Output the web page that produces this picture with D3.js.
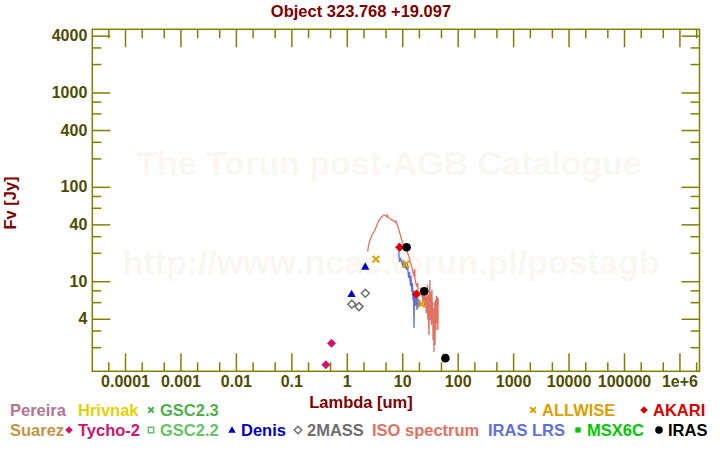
<!DOCTYPE html>
<html><head><meta charset="utf-8">
<script src="https://cdn.jsdelivr.net/npm/d3@7"></script>
<style>
body{margin:0;background:#fff}
svg{display:block}
text{font-family:"Liberation Sans",Arial,Helvetica,sans-serif;font-weight:bold}
</style>
</head><body>
<svg id="chart" width="720" height="450"></svg>
<script>
// ---------- data ----------
const chartTitle = "Object 323.768 +19.097";
const xLabel = "Lambda [um]";
const yLabel = "Fv [Jy]";
const watermark1 = "The Torun post-AGB Catalogue";
const watermark2 = "http://www.ncac.torun.pl/postagb";

const xMajorTicks = [1e-4, 1e-3, 0.01, 0.1, 1, 10, 100, 1000, 1e4, 1e5, 1e6];
const xTickLabels = ["0.0001", "0.001", "0.01", "0.1", "1", "10", "100", "1000", "10000", "100000", "1e+6"];
const xMinorTicks = [5e-5, 2e-4, 5e-4, 2e-3, 5e-3, 0.02, 0.05, 0.2, 0.5, 2, 5, 20, 50, 200, 500, 2000, 5000, 2e4, 5e4, 2e5, 5e5, 2e6];
const yMajorTicks = [4, 10, 40, 100, 400, 1000, 4000];
const yTickLabels = ["4", "10", "40", "100", "400", "1000", "4000"];
const yMinorTicks = [2, 3, 6, 8, 20, 30, 60, 80, 200, 300, 600, 800, 2000, 3000];

const tychoLambda = [0.42, 0.53];
const tychoFlux = [1.30, 2.20];
const denisLambda = [1.22, 2.15];
const denisFlux = [7.33, 14.3];
const twomassLambda = [1.235, 1.662, 2.159];
const twomassFlux = [5.71, 5.38, 7.46];
const allwiseLambda = [3.35, 11.6, 22.1];
const allwiseFlux = [17.1, 15.1, 5.71];
const akariLambda = [9, 18];
const akariFlux = [22.9, 7.28];
const irasLambda = [12, 25, 60];
const irasFlux = [22.9, 7.84, 1.53];

const isoLambda = [2.38, 2.46, 2.62, 2.85, 3.23, 3.70, 4.26, 4.75, 5.09, 5.30, 5.35, 5.46, 5.77, 6.45, 7.10, 7.60, 7.65, 7.94, 8.74, 9.77, 10.8, 12.0, 13.2, 14.8, 16.3, 16.8, 17.0, 18.2, 19.0, 19.3, 20.9, 22.0, 22.3, 23.0, 23.4, 24.0, 24.6, 25.0, 25.5, 25.8, 26.4, 27.0, 27.6,
  28.0, 28.5, 28.8, 29.1, 29.4, 29.7, 30.1, 30.4, 30.7, 31.0, 31.3, 31.6, 32.0, 32.3, 32.6, 33.0, 33.3, 33.7, 34.0, 34.4, 34.7, 35.1, 35.5, 35.9, 36.2, 36.6, 37.0, 37.4, 37.8, 38.2, 38.6, 39.0, 39.4, 39.8, 40.2, 40.6, 41.0, 41.5, 42.0, 42.4, 42.8, 43.2, 43.6, 44.1, 44.4, 44.7];
const isoFlux = [20.6, 23.7, 27.4, 30.9, 34.9, 42.8, 48.3, 50.4, 49.2, 48.0, 51.0, 48.3, 46.9, 44.6, 43.5, 42.0, 44.0, 41.1, 34.9, 27.4, 23.7, 21.5, 18.2, 14.3, 11.2, 13.5, 10.5, 8.77, 9.6, 7.6, 7.46, 8.6, 6.9, 7.9, 6.2, 6.34, 8.4, 5.4, 7.8, 5.6, 6.9, 4.6, 4.97,
  7.5, 9.14, 4.4, 3.89, 7.2, 6.34, 3.2, 2.70, 6.0, 5.61, 8.4, 10.3, 4.6, 3.89, 7.6, 6.65, 4.0, 3.44, 7.0, 8.09, 4.4, 4.97, 6.0, 2.39, 5.2, 4.29, 2.6, 1.78, 4.8, 3.44, 6.0, 2.11, 4.4, 6.34, 3.4, 3.05, 6.2, 6.99, 3.6, 3.89, 6.8, 6.34, 4.0, 3.05, 6.6, 5.61];

const lrsLambda = [8.56, 8.74, 8.92, 9.30, 9.69, 10.1, 10.5, 11.0, 11.4, 11.9, 12.4, 13.0, 13.5, 14.1, 14.4, 14.9, 15.3, 15.6, 16.0, 16.3, 16.6, 17.2, 17.7, 18.5, 19.2, 20.1, 20.9];
const lrsFlux = [25.4, 19.0, 16.0, 17.7, 16.0, 14.9, 16.8, 13.8, 16.0, 13.2, 15.3, 10.8, 12.5, 8.92, 11.4, 7.70, 9.59, 6.34, 8.09, 3.20, 6.99, 5.47, 7.52, 4.97, 6.65, 5.47, 6.34];

const legendRow1 = [
  {label: "Pereira", color: "#b3758f", marker: null},
  {label: "Hrivnak", color: "#e6d000", marker: null},
  {label: "GSC2.3", color: "#4daf4d", marker: "cross"},
  {label: "ALLWISE", color: "#dda000", marker: "cross"},
  {label: "AKARI", color: "#dd0000", marker: "diamond"}
];
const legendRow2 = [
  {label: "Suarez", color: "#c49444", marker: null},
  {label: "Tycho-2", color: "#d0146e", marker: "diamond"},
  {label: "GSC2.2", color: "#66c266", marker: "square-open"},
  {label: "Denis", color: "#0000c8", marker: "triangle"},
  {label: "2MASS", color: "#6e6e6e", marker: "diamond-open"},
  {label: "ISO spectrum", color: "#e07262", marker: null},
  {label: "IRAS LRS", color: "#6070d8", marker: null},
  {label: "MSX6C", color: "#00c800", marker: "square"},
  {label: "IRAS", color: "#000000", marker: "circle"}
];
// legend x positions of text starts (pixels, layout)
const legendRow1X = [10, 78, 160, 542, 653];
const legendRow2X = [10, 78, 160, 241, 307, 372, 488, 587, 668];

// ---------- layout ----------
const plot = {left: 92.3, right: 699.5, top: 29.3, bottom: 371.3};
const axisColor = "#808000";
const tickTextColor = "#4d4d00";
const titleColor = "#800000";

const svg = d3.select("#chart");

const x = d3.scaleLog().domain([2.57e-5, 2.3e6]).range([plot.left, plot.right]);
const y = d3.scaleLog().domain([1.11, 4670]).range([plot.bottom, plot.top]);

// watermark
svg.append("text").attr("x", 389).attr("y", 175).attr("text-anchor", "middle")
  .attr("font-size", 34).attr("fill", "#faf7f3").text(watermark1);
svg.append("text").attr("x", 391).attr("y", 274).attr("text-anchor", "middle")
  .attr("font-size", 34).attr("fill", "#faf7f3").text(watermark2);

// title
svg.append("text").attr("x", 361).attr("y", 17).attr("text-anchor", "middle")
  .attr("font-size", 16.5).attr("fill", titleColor).text(chartTitle);

// axes
function styleAxis(g) {
  g.selectAll("path.domain").remove();
  g.selectAll("line").attr("stroke", axisColor).attr("stroke-width", 1.5);
  g.selectAll("text").attr("fill", tickTextColor).attr("font-size", 16)
    .attr("font-family", '"Liberation Sans",Arial,sans-serif').attr("font-weight", "bold");
}
const fmtX = d => xTickLabels[xMajorTicks.indexOf(d)];
const fmtY = d => yTickLabels[yMajorTicks.indexOf(d)];

svg.append("g").attr("transform", `translate(0,${plot.bottom})`)
  .call(d3.axisBottom(x).tickValues(xMajorTicks).tickFormat(fmtX).tickSize(-18).tickPadding(4)).call(styleAxis);
svg.append("g").attr("transform", `translate(0,${plot.bottom})`)
  .call(d3.axisBottom(x).tickValues(xMinorTicks).tickFormat("").tickSize(-9)).call(styleAxis);
svg.append("g").attr("transform", `translate(0,${plot.top})`)
  .call(d3.axisTop(x).tickValues(xMajorTicks).tickFormat("").tickSize(-18)).call(styleAxis);
svg.append("g").attr("transform", `translate(0,${plot.top})`)
  .call(d3.axisTop(x).tickValues(xMinorTicks).tickFormat("").tickSize(-9)).call(styleAxis);
svg.append("g").attr("transform", `translate(${plot.left},0)`)
  .call(d3.axisLeft(y).tickValues(yMajorTicks).tickFormat(fmtY).tickSize(-18).tickPadding(5)).call(styleAxis);
svg.append("g").attr("transform", `translate(${plot.left},0)`)
  .call(d3.axisLeft(y).tickValues(yMinorTicks).tickFormat("").tickSize(-9)).call(styleAxis);
svg.append("g").attr("transform", `translate(${plot.right},0)`)
  .call(d3.axisRight(y).tickValues(yMajorTicks).tickFormat("").tickSize(-18)).call(styleAxis);
svg.append("g").attr("transform", `translate(${plot.right},0)`)
  .call(d3.axisRight(y).tickValues(yMinorTicks).tickFormat("").tickSize(-9)).call(styleAxis);

svg.append("rect").attr("x", plot.left).attr("y", plot.top)
  .attr("width", plot.right - plot.left).attr("height", plot.bottom - plot.top)
  .attr("fill", "none").attr("stroke", axisColor).attr("stroke-width", 1.5);

// axis labels
svg.append("text").attr("x", 361).attr("y", 408).attr("text-anchor", "middle")
  .attr("font-size", 16.5).attr("fill", titleColor).text(xLabel);
svg.append("text").attr("transform", "translate(16,203) rotate(-90)").attr("text-anchor", "middle")
  .attr("font-size", 16.5).attr("fill", titleColor).text(yLabel);

// spectra
const line = d3.line().x(d => x(d[0])).y(d => y(d[1]));
svg.append("path").datum(d3.zip(isoLambda, isoFlux)).attr("d", line)
  .attr("fill", "none").attr("stroke", "#e07262").attr("stroke-width", 1.3);
svg.append("path").datum(d3.zip(lrsLambda, lrsFlux)).attr("d", line)
  .attr("fill", "none").attr("stroke", "#6070d8").attr("stroke-width", 1.3);

// markers
function markerPath(type, s) {
  switch (type) {
    case "diamond": case "diamond-open": return `M0,${-s}L${s},0L0,${s}L${-s},0Z`;
    case "triangle": return `M0,${-s}L${s},${s*0.75}L${-s},${s*0.75}Z`;
    case "cross": return `M${-s*0.8},${-s*0.8}L${s*0.8},${s*0.8}M${s*0.8},${-s*0.8}L${-s*0.8},${s*0.8}`;
    case "square": case "square-open": return `M${-s*0.7},${-s*0.7}H${s*0.7}V${s*0.7}H${-s*0.7}Z`;
    case "circle": return d3.arc()({innerRadius: 0, outerRadius: s, startAngle: 0, endAngle: 2 * Math.PI});
  }
}
function drawMarker(g, type, color, s) {
  const p = g.append("path").attr("d", markerPath(type, s));
  if (type === "cross") p.attr("fill", "none").attr("stroke", color).attr("stroke-width", 2);
  else if (type.endsWith("open")) p.attr("fill", "none").attr("stroke", color).attr("stroke-width", 1.5);
  else p.attr("fill", color);
}
function plotSeries(lams, fluxes, type, color, s) {
  lams.forEach((l, i) => {
    const g = svg.append("g").attr("transform", `translate(${x(l)},${y(fluxes[i])})`);
    drawMarker(g, type, color, s);
  });
}
plotSeries(tychoLambda, tychoFlux, "diamond", "#d0146e", 4.5);
plotSeries(denisLambda, denisFlux, "triangle", "#0000c8", 4.2);
plotSeries(twomassLambda, twomassFlux, "diamond-open", "#6e6e6e", 4);
plotSeries(allwiseLambda, allwiseFlux, "cross", "#dda000", 4.2);
plotSeries(akariLambda, akariFlux, "diamond", "#dd0000", 4.6);
plotSeries(irasLambda, irasFlux, "circle", "#000000", 4.3);

// legend
function drawLegendRow(items, xs, yBase) {
  items.forEach((it, i) => {
    svg.append("text").attr("x", xs[i]).attr("y", yBase).attr("font-size", 16.5)
      .attr("fill", it.color).text(it.label);
    if (it.marker) {
      const g = svg.append("g").attr("transform", `translate(${xs[i] - 9},${yBase - 6})`);
      drawMarker(g, it.marker, it.color, it.marker === "cross" ? 3.4 : 3.8);
    }
  });
}
drawLegendRow(legendRow1, legendRow1X, 416);
drawLegendRow(legendRow2, legendRow2X, 436);
</script>
</body></html>
